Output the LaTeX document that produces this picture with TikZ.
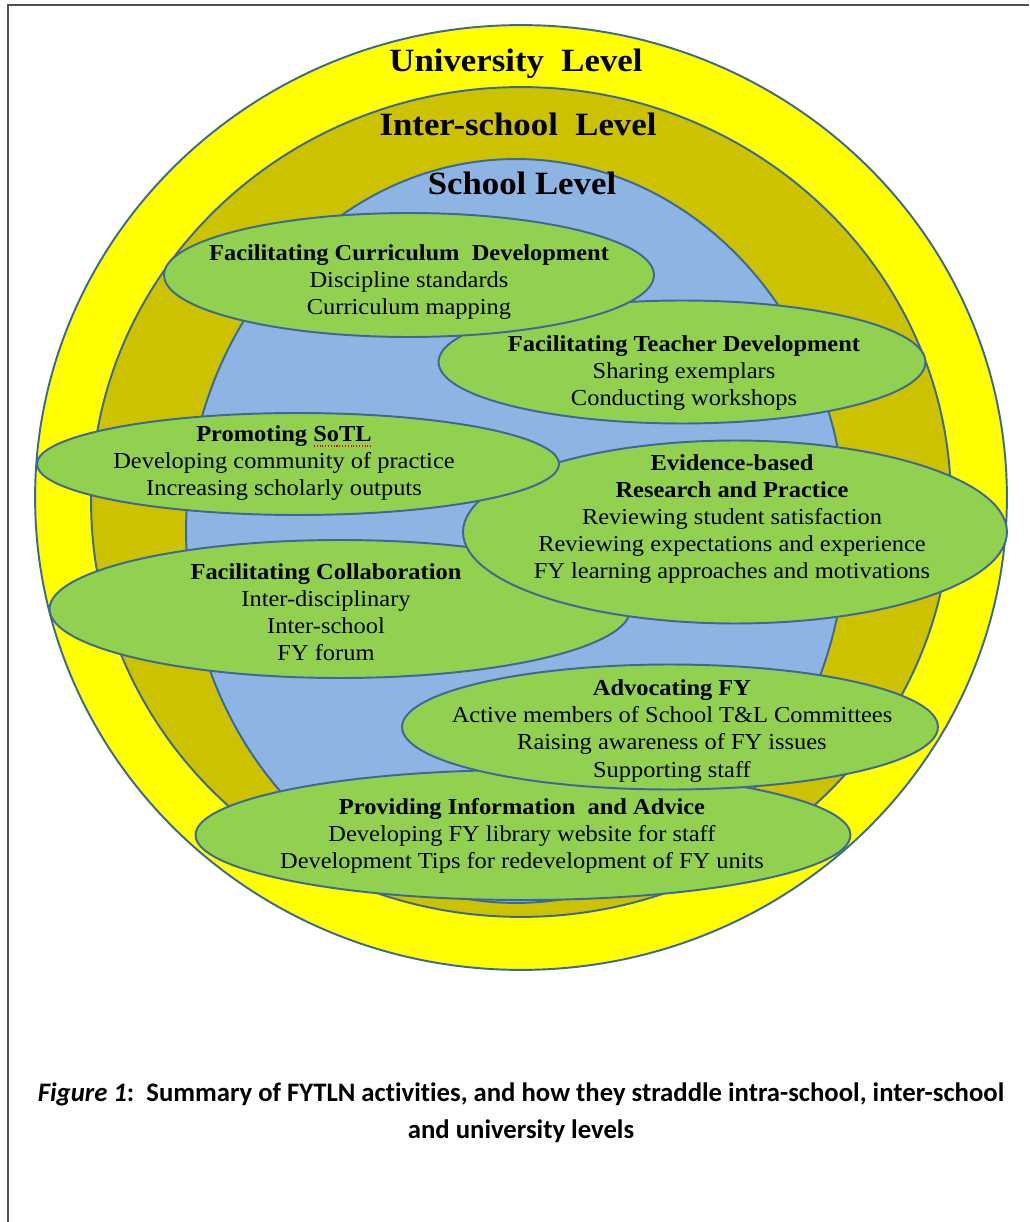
\documentclass[tikz,border=0pt]{standalone}
\usepackage{fontspec}
\setmainfont{Liberation Serif}[FakeStretch=1.07]
\newfontfamily\captionfont{Carlito}[Ligatures=NoCommon]
\usetikzlibrary{shapes.geometric}

\definecolor{uniyellow}{HTML}{FFFF00}
\definecolor{interolive}{HTML}{CCC200}
\definecolor{schoolblue}{HTML}{8EB4E3}
\definecolor{actgreen}{HTML}{92D050}
\definecolor{edgeblue}{HTML}{3C6896}
\definecolor{framegray}{HTML}{505050}

\begin{document}
\begin{tikzpicture}[x=0.02cm, y=0.02cm,
  ring/.style={draw=edgeblue, line width=1.1pt},
  activity/.style={ellipse, draw=edgeblue, fill=actgreen, line width=1.1pt, inner sep=0pt},
  acttext/.style={align=center, inner sep=0pt, font={\fontsize{13}{15.4}\selectfont}},
  leveltext/.style={anchor=base, inner sep=0pt, font={\fontsize{18.5}{22}\selectfont\bfseries}}]
  \useasboundingbox (0,0) rectangle (1029,-1222);
  \draw[framegray, line width=1.2pt] (8,-1222) -- (8,-5) -- (1029,-5);

  \foreach \col/\cx/\cy/\rx/\ry in {uniyellow/521/-497.5/9.72/9.45,
      interolive/521/-502/8.6/8.3, schoolblue/516/-531/6.6/7.44} {
    \draw[ring, fill=\col] (\cx,\cy) ellipse [x radius=\rx cm, y radius=\ry cm];
  }

  \node[leveltext] (university) at (516,-72) {University\ \ Level};
  \node[leveltext] (interschool) at (518,-136) {Inter-school\ \ Level};
  \node[leveltext] (school) at (522,-195) {School Level};

  \node[activity, minimum width=9.74cm, minimum height=2.46cm] (teacher) at (682,-362) {};
  \node[acttext] (teachertext) at (684,-373)
    {\textbf{Facilitating Teacher Development}\\Sharing exemplars\\Conducting workshops};

  \node[activity, minimum width=9.8cm, minimum height=2.48cm] (curriculum) at (409,-275) {};
  \node[acttext] (curriculumtext) at (409,-282)
    {\textbf{Facilitating Curriculum\ \ Development}\\Discipline standards\\Curriculum mapping};

  \node[activity, minimum width=11.62cm, minimum height=2.76cm] (collab) at (340,-609) {};
  \node[acttext] (collabtext) at (326,-612)
    {\textbf{Facilitating Collaboration}\\Inter-disciplinary\\Inter-school\\FY forum};

  \node[activity, minimum width=10.88cm, minimum height=3.66cm] (evidence) at (735,-532) {};
  \node[acttext] (evidencetext) at (732,-519)
    {\textbf{Evidence-based}\\\textbf{Research and Practice}\\Reviewing student satisfaction\\
     Reviewing expectations and experience\\FY learning approaches and motivations};

  \node[activity, minimum width=10.44cm, minimum height=2.04cm] (sotl) at (298,-464) {};
  \node[acttext] (sotltext) at (284,-463)
    {\textbf{Promoting SoTL}\\Developing community of practice\\Increasing scholarly outputs};
  \draw[red, densely dotted, line width=0.6pt] (314,-446) -- (371,-446);

  \node[activity, minimum width=13.1cm, minimum height=2.6cm] (advice) at (523,-835) {};
  \node[acttext] (advicetext) at (522,-836)
    {\textbf{Providing Information\ \ and Advice}\\Developing FY library website for staff\\
     Development Tips for redevelopment of FY units};

  \node[activity, minimum width=10.72cm, minimum height=2.5cm] (advocate) at (670,-727) {};
  \node[acttext] (advocatetext) at (672,-731)
    {\textbf{Advocating FY}\\Active members of School T\&L Committees\\
     Raising awareness of FY issues\\Supporting staff};

  \node[font={\captionfont\bfseries\fontsize{15.2}{21}\selectfont}, align=center] (caption) at (521,-1113)
    {\textit{Figure 1}:\ \ Summary of FYTLN activities, and how they straddle intra-school, inter-school\\
     and university levels};
\end{tikzpicture}
\end{document}
